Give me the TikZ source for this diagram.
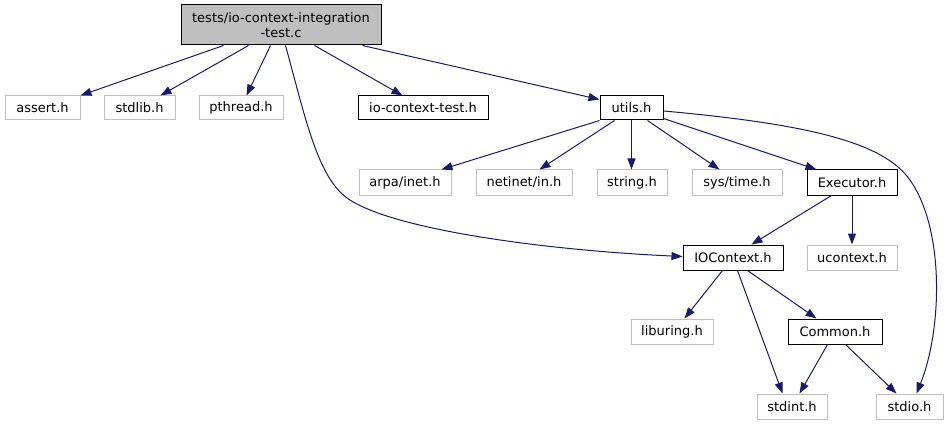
\documentclass[tikz,border=0pt]{standalone}
\usepackage{fontspec}
\setmainfont{DejaVu Sans}
\usetikzlibrary{arrows.meta}
\definecolor{edgeblue}{HTML}{191970}
\definecolor{sysgrey}{HTML}{BFBFBF}
\definecolor{rootfill}{HTML}{BFBFBF}
\tikzset{
  box/.style={rectangle, inner sep=0pt, line width=1pt, font=\fontsize{13}{15}\selectfont, align=center},
  sysbox/.style={box, draw=sysgrey},
  projbox/.style={box, draw=black},
  rootbox/.style={box, draw=black, fill=rootfill},
  edge/.style={draw=edgeblue, line width=1pt, -{Triangle[length=11pt,width=8pt]}},
}
\begin{document}
\begin{tikzpicture}[x=1pt,y=-1pt]
\useasboundingbox (0,0) rectangle (948,425);
% nodes
\node[rootbox, minimum width=200pt, minimum height=40pt] (root) at (281,25) {tests/io-context-integration\\-test.c};
\node[sysbox, minimum width=75pt, minimum height=24pt] (assert) at (42.5,108) {assert.h};
\node[sysbox, minimum width=71pt, minimum height=24pt] (stdlib) at (139.5,108) {stdlib.h};
\node[sysbox, minimum width=84pt, minimum height=24pt] (pthread) at (241,108) {pthread.h};
\node[projbox, minimum width=130pt, minimum height=24pt] (iotest) at (423,108) {io-context-test.h};
\node[projbox, minimum width=63pt, minimum height=24pt] (utils) at (631.5,108) {utils.h};
\node[sysbox, minimum width=92pt, minimum height=25pt] (arpa) at (405,182.5) {arpa/inet.h};
\node[sysbox, minimum width=96pt, minimum height=25pt] (netinet) at (524,182.5) {netinet/in.h};
\node[sysbox, minimum width=70pt, minimum height=25pt] (string) at (632,182.5) {string.h};
\node[sysbox, minimum width=90pt, minimum height=25pt] (systime) at (737,182.5) {sys/time.h};
\node[projbox, minimum width=90pt, minimum height=25pt] (executor) at (852,182.5) {Executor.h};
\node[projbox, minimum width=100pt, minimum height=25pt] (iocontext) at (733,257.5) {IOContext.h};
\node[sysbox, minimum width=90pt, minimum height=25pt] (ucontext) at (852,257.5) {ucontext.h};
\node[sysbox, minimum width=82pt, minimum height=25pt] (liburing) at (672,331.5) {liburing.h};
\node[projbox, minimum width=94pt, minimum height=25pt] (common) at (835,331.5) {Common.h};
\node[sysbox, minimum width=70pt, minimum height=25pt] (stdint) at (792,406.5) {stdint.h};
\node[sysbox, minimum width=67pt, minimum height=25pt] (stdio) at (909.5,406.5) {stdio.h};
% edges from root
\draw[edge] ([xshift=43pt]root.south west) -- (assert.north east);
\draw[edge] ([xshift=68pt]root.south west) -- ([xshift=57pt]stdlib.north west);
\draw[edge] ([xshift=90pt]root.south west) -- ([xshift=48pt]pthread.north west);
\draw[edge] ([xshift=134pt]root.south west) -- ([xshift=45pt]iotest.north west);
\draw[edge] ([xshift=182pt]root.south west) -- ([yshift=-4pt]utils.north west);
\draw[edge] ([xshift=105pt]root.south west) .. controls (306,120) and (318,180) .. (350,200) .. controls (400,232) and (560,251) .. ([yshift=1pt]iocontext.west);
% edges from utils
\draw[edge] (utils.south west) -- ([xshift=83pt]arpa.north west);
\draw[edge] ([xshift=15pt]utils.south west) -- ([xshift=64pt]netinet.north west);
\draw[edge] (utils.south) -- (utils.south |- string.north);
\draw[edge] ([xshift=48pt]utils.south west) -- ([xshift=28pt]systime.north west);
\draw[edge] ([yshift=2pt]utils.south east) -- ([xshift=10pt]executor.north west);
\draw[edge] ([yshift=-3pt]utils.east) .. controls (820,125) and (885,145) .. (910,180) .. controls (945,230) and (942,330) .. ([xshift=41pt]stdio.north west);
% edges from Executor
\draw[edge] ([xshift=25pt]executor.south west) -- ([xshift=69pt]iocontext.north west);
\draw[edge] (executor.south) -- (ucontext.north);
% edges from IOContext
\draw[edge] ([xshift=40pt]iocontext.south west) -- ([xshift=54pt]liburing.north west);
\draw[edge] ([xshift=55pt]iocontext.south west) -- ([xshift=26pt]stdint.north west);
\draw[edge] ([xshift=65pt]iocontext.south west) -- ([xshift=29pt]common.north west);
% edges from Common
\draw[edge] ([xshift=40pt]common.south west) -- ([xshift=43pt]stdint.north west);
\draw[edge] ([xshift=58pt]common.south west) -- ([xshift=21pt]stdio.north west);
\end{tikzpicture}
\end{document}
